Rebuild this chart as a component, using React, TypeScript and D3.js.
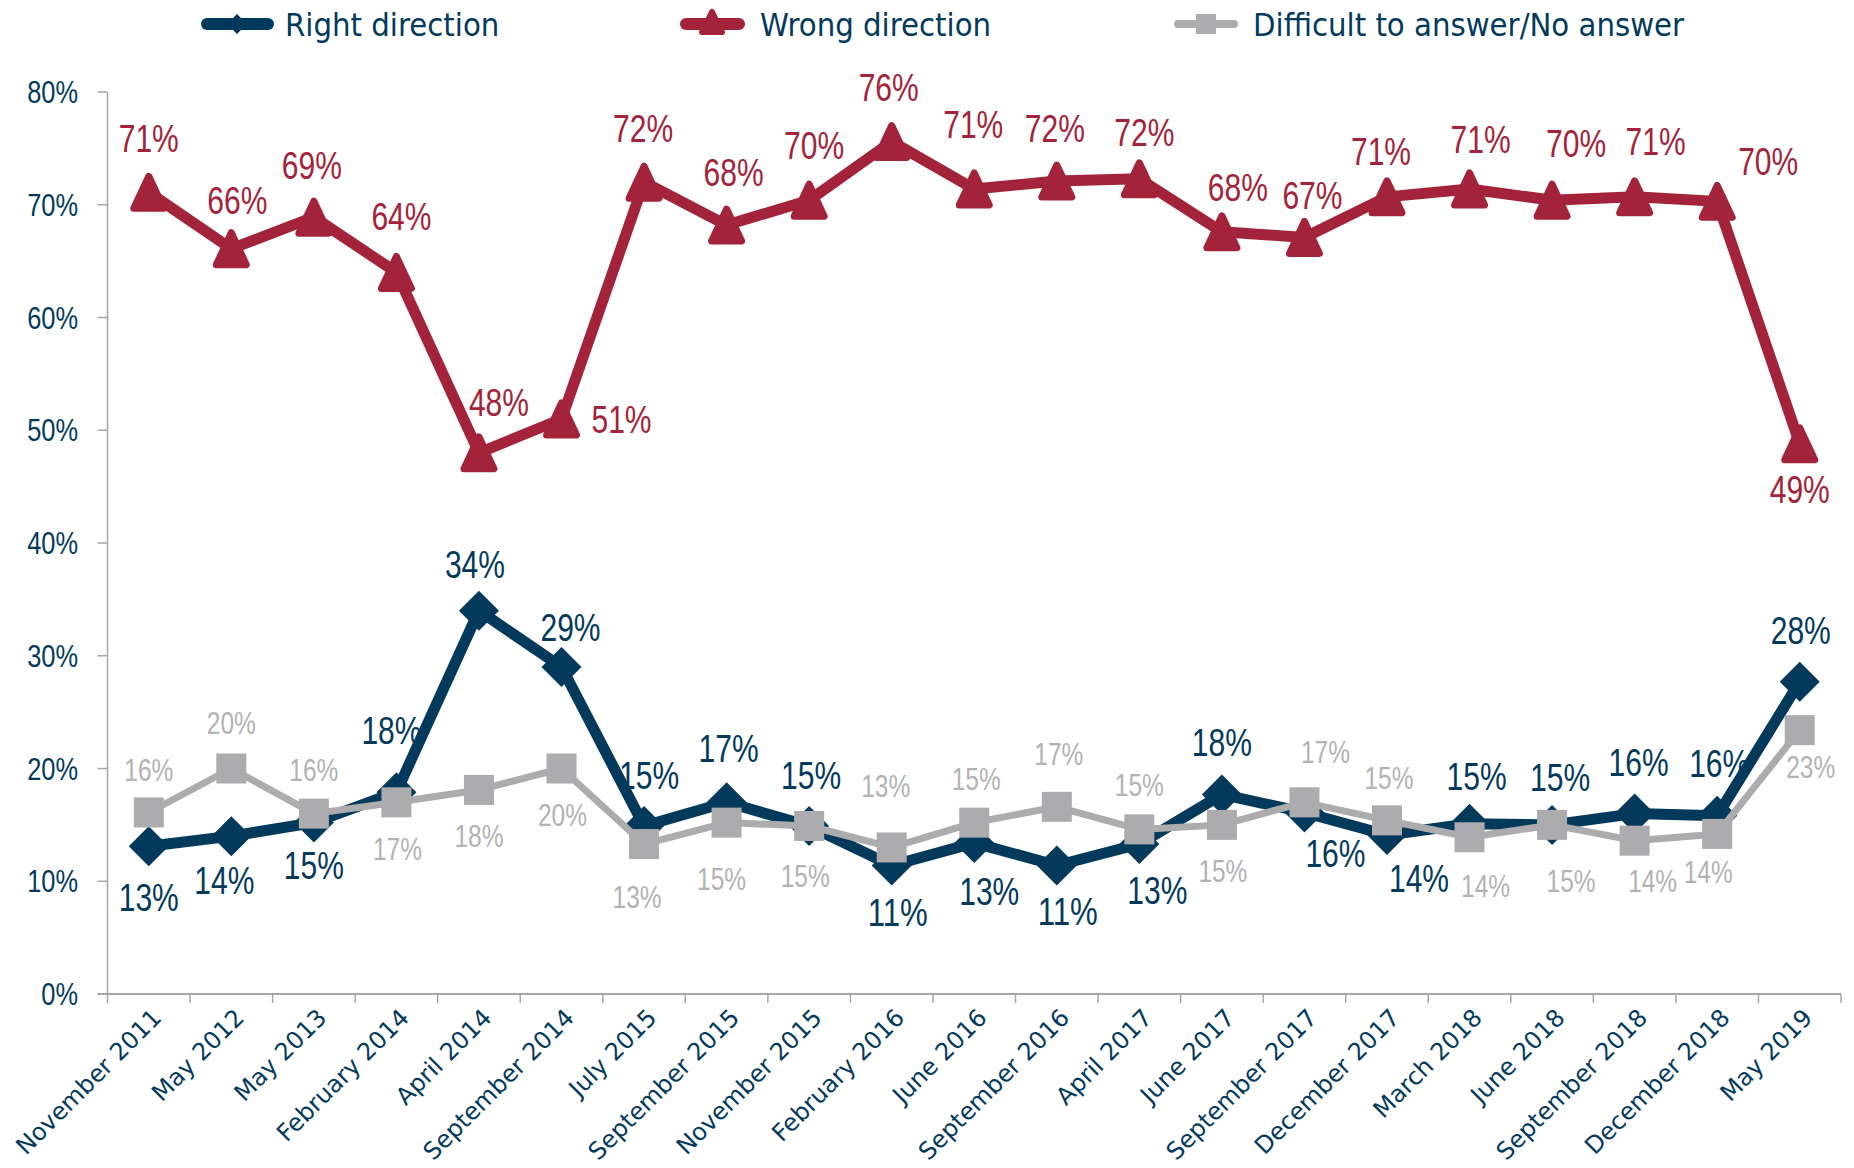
import React from "react";
import * as d3 from "d3";

// ---- Data ----
const categories = [
  "November 2011", "May 2012", "May 2013", "February 2014", "April 2014",
  "September 2014", "July  2015", "September 2015", "November 2015", "February 2016",
  "June 2016", "September 2016", "April 2017", "June 2017", "September 2017",
  "December 2017", "March 2018", "June 2018", "September 2018", "December 2018", "May 2019",
];
const rightDirection = [13.1, 14, 15.2, 17.9, 34, 29, 14.9, 17, 14.9, 11.4, 13.4, 11.4, 13.3, 17.7, 16.1, 14.1, 15.1, 15, 16, 15.8, 27.7];
const wrongDirection = [71.1, 66.1, 68.9, 64, 48, 51, 72, 68.2, 70.4, 75.6, 71.4, 72.1, 72.3, 67.6, 67.1, 70.7, 71.4, 70.4, 70.7, 70.3, 48.8];
const difficult = [16.1, 20, 16, 17, 18.1, 20, 13.3, 15.2, 14.9, 13, 15.2, 16.6, 14.6, 15, 17, 15.4, 13.9, 15, 13.6, 14.2, 23.4];
const yTicks = [0, 10, 20, 30, 40, 50, 60, 70, 80];
const seriesNames = ["Right direction", "Wrong direction", "Difficult to answer/No answer"];

// ---- Label placement (layout, px offsets from point) ----
const wrongLabelOff: [number, number][] = [
  [0, -54], [6, -48], [-2, -52], [5, -56], [20, -50], [60, 0], [-1, -54], [7, -53], [5, -55], [-3, -54],
  [-1, -65], [-2, -53], [5, -46], [16, -44], [8, -42], [-6, -46], [11, -50], [24, -57], [21, -56], [51, -40], [0, 46],
];
const rightLabelOff: [number, number][] = [
  [0, 51], [-7, 44], [0, 43], [-5, -62], [-4, -46], [9, -40], [5, -51], [2, -54], [2, -51], [6, 47],
  [15, 48], [11, 46], [18, 46], [0, -52], [31, 41], [32, 43], [7, -47], [8, -48], [4, -51], [2, -53], [1, -51],
];
const grayLabelOff: [number, number][] = [
  [0, -43], [0, -46], [0, -44], [1, 47], [0, 46], [1, 46], [-7, 53], [-5, 56], [-4, 50], [-6, -62],
  [2, -44], [2, -53], [0, -45], [1, 46], [21, -50], [2, -43], [16, 49], [19, 56], [18, 40], [-9, 38], [11, 37],
];

const NAVY = "#033a5c";
const CRIMSON = "#a3243a";
const GRAY = "#acacae";
const GRAY_TEXT = "#b2b2b4";
const AXIS = "#a4a7ae";
const NARROW = "'Liberation Sans', Arial, sans-serif";
const LEGEND_FONT = "'DejaVu Sans Condensed', 'DejaVu Sans', sans-serif";
const XFONT = "'DejaVu Sans', sans-serif";

const W = 1854, H = 1168;
const left = 107.5, right = 1841, top = 92, bottom = 994;

// width of a "NN%" string in Liberation Sans, condensed
const narrowWidth = (s: string, size: number, squeeze: number) => {
  let em = 0;
  for (const ch of s) em += ch === "%" ? 0.889 : 0.556;
  return em * size * squeeze;
};

const diamond = (r: number) => `M0,${-r}L${r},0L0,${r}L${-r},0Z`;
const triangle = (hw: number, hh: number) => `M0,${-hh}L${hw},${hh}L${-hw},${hh}Z`;

export default function App() {
  const x = d3.scaleBand<string>().domain(categories).range([left, right]).padding(0);
  const y = d3.scaleLinear().domain([0, 80]).range([bottom, top]);
  const cx = (i: number) => (x(categories[i]) as number) + x.bandwidth() / 2;
  const line = d3.line<number>().x((_, i) => cx(i)).y((d) => y(d));
  const boundaries = categories.map((c) => x(c) as number).concat([right]);

  const renderLabels = (vals: number[], offs: [number, number][], color: string, size: number) =>
    vals.map((v, i) => {
      const s = `${Math.round(v)}%`;
      return (
        <text key={i} x={cx(i) + offs[i][0]} y={y(v) + offs[i][1]} dy="0.36em" textAnchor="middle"
          textLength={narrowWidth(s, size, 0.79)} lengthAdjust="spacingAndGlyphs"
          fontFamily={NARROW} fontSize={size} fill={color}>{s}</text>
      );
    });

  return (
    <svg width={W} height={H} style={{ position: "absolute", left: 0, top: 0, background: "#fff" }}>
      {/* legend */}
      <g>
        <line x1={207} x2={268} y1={24} y2={24} stroke={NAVY} strokeWidth={12} strokeLinecap="round" />
        <path d={diamond(10)} transform="translate(237,24)" fill={NAVY} />
        <text x={285} y={24} dy="0.36em" fontFamily={LEGEND_FONT} fontSize={32.5} fill={NAVY}>{seriesNames[0]}</text>
        <line x1={686} x2={739} y1={24} y2={24} stroke={CRIMSON} strokeWidth={12} strokeLinecap="round" />
        <path d={triangle(10, 10)} transform="translate(712,22)" fill={CRIMSON} stroke={CRIMSON} strokeWidth={6} strokeLinejoin="round" />
        <text x={760} y={24} dy="0.36em" fontFamily={LEGEND_FONT} fontSize={32.5} fill={NAVY}>{seriesNames[1]}</text>
        <line x1={1178} x2={1234} y1={24} y2={24} stroke={GRAY} strokeWidth={8} strokeLinecap="round" />
        <rect x={1196} y={14} width={20} height={20} fill={GRAY} />
        <text x={1253} y={24} dy="0.36em" fontFamily={LEGEND_FONT} fontSize={32.5} fill={NAVY}>{seriesNames[2]}</text>
      </g>

      {/* axes */}
      <g>
        <line x1={left} x2={left} y1={top} y2={bottom} stroke={AXIS} strokeWidth={1.5} />
        {yTicks.map((t) => {
          const s = `${t}%`;
          return (
            <g key={t}>
              <line x1={left - 10} x2={left} y1={y(t)} y2={y(t)} stroke={AXIS} strokeWidth={1.5} />
              <text x={78} y={y(t)} dy="0.36em" textAnchor="end" textLength={narrowWidth(s, 31, 0.82)}
                lengthAdjust="spacingAndGlyphs" fontFamily={NARROW} fontSize={31} fill={NAVY}>{s}</text>
            </g>
          );
        })}
        <line x1={left - 10} x2={right} y1={bottom} y2={bottom} stroke={AXIS} strokeWidth={2} />
        {boundaries.map((b, i) => (
          <line key={i} x1={b} x2={b} y1={bottom} y2={bottom + 9} stroke={AXIS} strokeWidth={1.5} />
        ))}
        {categories.map((c, i) => (
          <text key={c} transform={`translate(${cx(i) + 8},${bottom + 19}) rotate(-45)`} textAnchor="end" dy="0.36em"
            fontFamily={XFONT} fontSize={24} fill={NAVY}>{c}</text>
        ))}
      </g>

      {/* series */}
      <path d={line(rightDirection) as string} fill="none" stroke={NAVY} strokeWidth={11} strokeLinejoin="round" />
      {rightDirection.map((v, i) => (
        <path key={i} d={diamond(20)} transform={`translate(${cx(i)},${y(v)})`} fill={NAVY} />
      ))}
      <path d={line(wrongDirection) as string} fill="none" stroke={CRIMSON} strokeWidth={11} strokeLinejoin="round" />
      {wrongDirection.map((v, i) => (
        <path key={i} d={triangle(15, 16)} transform={`translate(${cx(i)},${y(v)})`} fill={CRIMSON}
          stroke={CRIMSON} strokeWidth={7} strokeLinejoin="round" />
      ))}
      <path d={line(difficult) as string} fill="none" stroke={GRAY} strokeWidth={7} strokeLinejoin="round" />
      {difficult.map((v, i) => (
        <rect key={i} x={cx(i) - 15} y={y(v) - 15} width={30} height={30} fill={GRAY} />
      ))}

      {/* labels */}
      {renderLabels(wrongDirection, wrongLabelOff, CRIMSON, 38)}
      {renderLabels(rightDirection, rightLabelOff, NAVY, 38)}
      {renderLabels(difficult, grayLabelOff, GRAY_TEXT, 31)}
    </svg>
  );
}
